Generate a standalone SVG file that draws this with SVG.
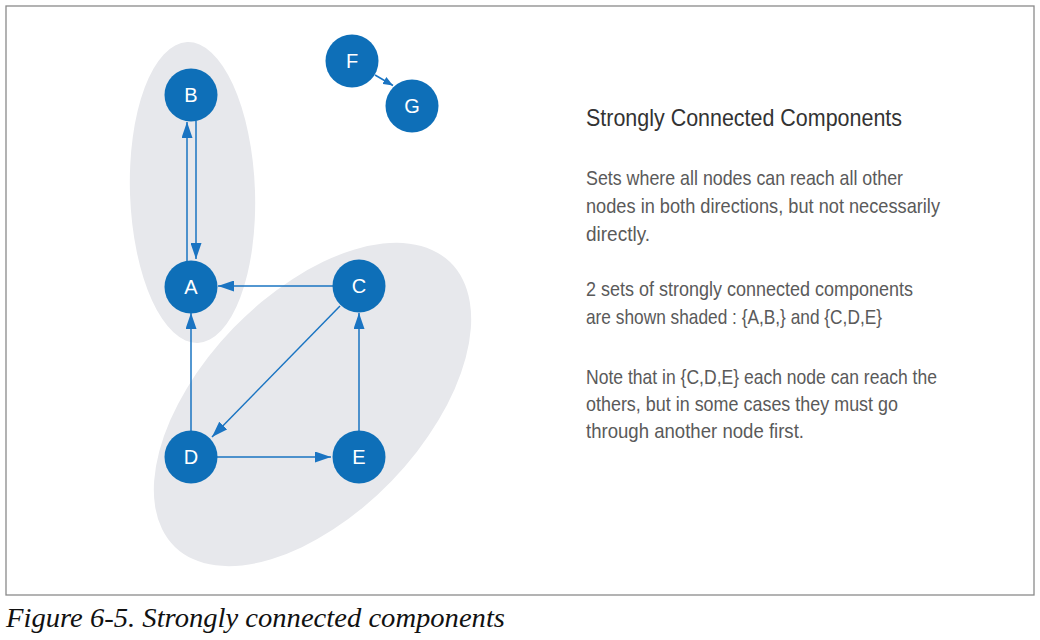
<svg xmlns="http://www.w3.org/2000/svg" width="1040" height="640" viewBox="0 0 1040 640">
<style>
.frame{fill:#fff;stroke:#8a8a8a;stroke-width:1.3}
.group{fill:#e7e8ec}
.node circle{fill:#0e6fb8}
.node text{font-family:"Liberation Sans",Arial,sans-serif;font-size:20px;fill:#fff;text-anchor:middle}
.edge{stroke:#1a74c2;stroke-width:1.5;fill:none}
.title{font-family:"Liberation Sans Narrow","Liberation Sans",Arial,sans-serif;font-size:24px;fill:#333}
.body{font-family:"Liberation Sans Narrow","Liberation Sans",Arial,sans-serif;font-size:21px;fill:#5a5a5a}
.caption{font-family:"Liberation Serif","Times New Roman",serif;font-style:italic;font-size:27px;fill:#111}
</style>
<defs>
<marker id="arrow" markerUnits="userSpaceOnUse" markerWidth="16" markerHeight="11" refX="16" refY="5.5" orient="auto">
<path d="M0,0 L16,5.5 L0,11 z" fill="#1a74c2"/>
</marker>
<marker id="arrowSmall" markerUnits="userSpaceOnUse" markerWidth="10" markerHeight="8" refX="10" refY="4" orient="auto">
<path d="M0,0 L10,4 L0,8 z" fill="#1a74c2"/>
</marker>
</defs>
<rect class="frame" x="6" y="6" width="1028" height="589"/>
<g id="groups">
<ellipse class="group" cx="192.5" cy="192.5" rx="62.5" ry="150.5" transform="rotate(-2 192.5 192.5)"/>
<ellipse class="group" cx="312.5" cy="404.5" rx="198" ry="110" transform="rotate(-46 312.5 404.5)"/>
</g>
<g id="connectors">
<line class="edge" x1="187" y1="287" x2="187" y2="122" marker-end="url(#arrow)"/>
<line class="edge" x1="196" y1="121" x2="196" y2="259" marker-end="url(#arrow)"/>
<line class="edge" x1="334" y1="286" x2="218" y2="286" marker-end="url(#arrow)"/>
<line class="edge" x1="191" y1="431" x2="191" y2="313" marker-end="url(#arrow)"/>
<line class="edge" x1="359" y1="431" x2="359" y2="313" marker-end="url(#arrow)"/>
<line class="edge" x1="340" y1="306" x2="212" y2="437" marker-end="url(#arrow)"/>
<line class="edge" x1="217" y1="457" x2="331" y2="457" marker-end="url(#arrow)"/>
<line class="edge" x1="375" y1="75" x2="393" y2="85.5" marker-end="url(#arrowSmall)"/>
</g>
<g id="node-B" class="node"><circle cx="191" cy="95" r="26.5"/><text x="191" y="102">B</text></g>
<g id="node-A" class="node"><circle cx="191" cy="287" r="26.5"/><text x="191" y="294">A</text></g>
<g id="node-C" class="node"><circle cx="359" cy="286" r="26.5"/><text x="359" y="293">C</text></g>
<g id="node-D" class="node"><circle cx="191" cy="457" r="26.5"/><text x="191" y="464">D</text></g>
<g id="node-E" class="node"><circle cx="359" cy="457" r="26.5"/><text x="359" y="464">E</text></g>
<g id="node-F" class="node"><circle cx="352" cy="61" r="26.5"/><text x="352" y="68">F</text></g>
<g id="node-G" class="node"><circle cx="412" cy="106" r="26.5"/><text x="412" y="113">G</text></g>
<g id="description">
<text class="title" x="586" y="126" textLength="316" lengthAdjust="spacingAndGlyphs">Strongly Connected Components</text>
<text class="body" x="586" y="185" textLength="317" lengthAdjust="spacingAndGlyphs">Sets where all nodes can reach all other</text>
<text class="body" x="586" y="213" textLength="354" lengthAdjust="spacingAndGlyphs">nodes in both directions, but not necessarily</text>
<text class="body" x="586" y="241" textLength="64" lengthAdjust="spacingAndGlyphs">directly.</text>
<text class="body" x="586" y="296" textLength="327" lengthAdjust="spacingAndGlyphs">2 sets of strongly connected components</text>
<text class="body" x="586" y="324" textLength="296" lengthAdjust="spacingAndGlyphs">are shown shaded : {A,B,} and {C,D,E}</text>
<text class="body" x="586" y="384" textLength="351" lengthAdjust="spacingAndGlyphs">Note that in {C,D,E} each node can reach the</text>
<text class="body" x="586" y="411" textLength="312" lengthAdjust="spacingAndGlyphs">others, but in some cases they must go</text>
<text class="body" x="586" y="438" textLength="218" lengthAdjust="spacingAndGlyphs">through another node first.</text>
</g>
<text class="caption" x="6" y="627" textLength="499" lengthAdjust="spacingAndGlyphs">Figure 6-5. Strongly connected components</text>
</svg>
